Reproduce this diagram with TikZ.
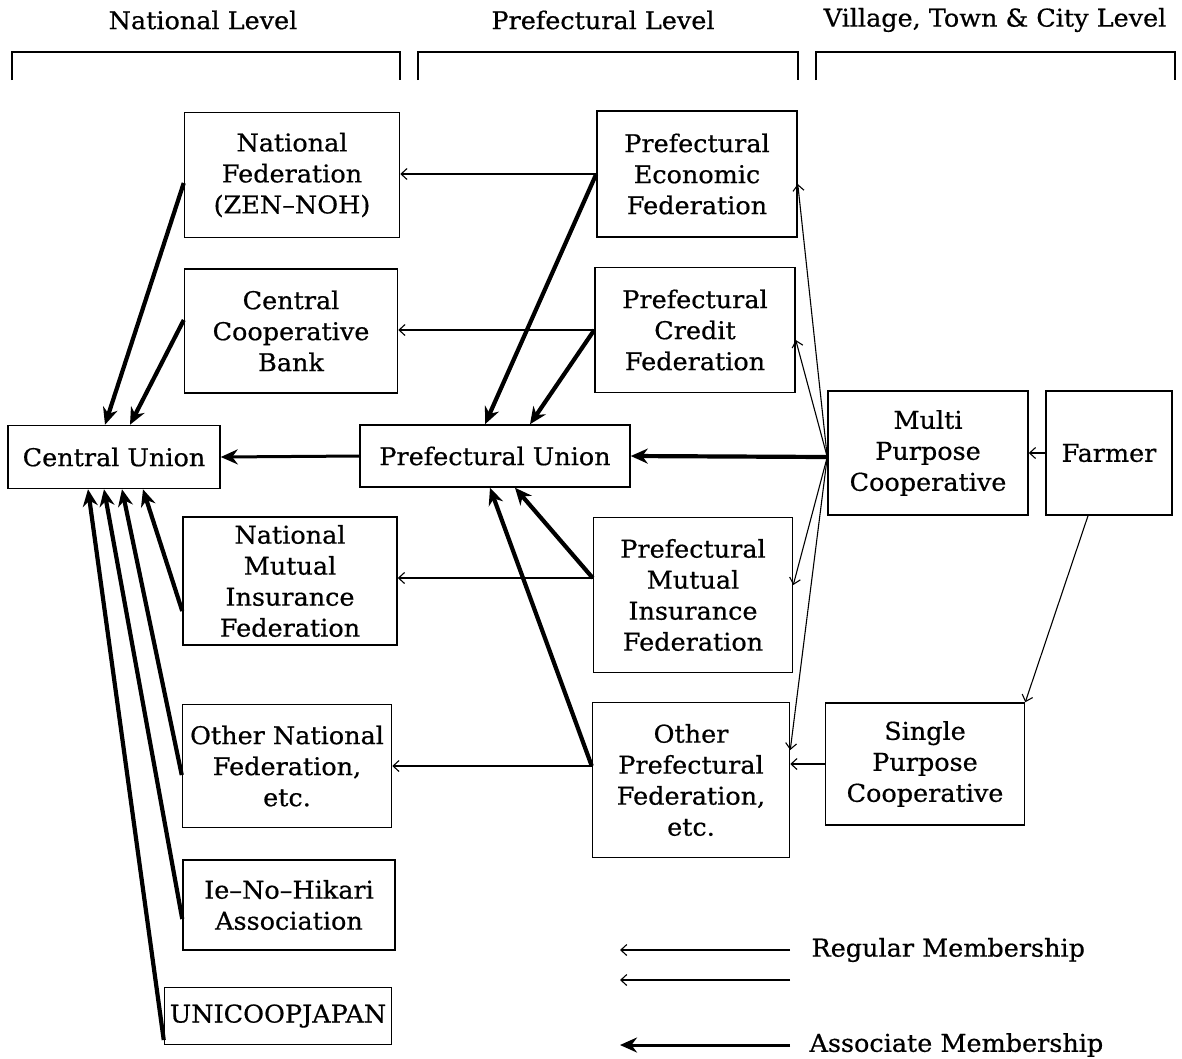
\documentclass[tikz,border=0pt]{standalone}
\usepackage{fontspec}
\setmainfont[FakeBold=0.6,FakeStretch=1.04]{DejaVu Serif}
\usetikzlibrary{arrows.meta}
\begin{document}
\begin{tikzpicture}[x=1pt,y=-1pt,
  box/.style={draw,line width=1.5pt,align=center,inner sep=0pt,
    font=\fontsize{24.5}{31}\selectfont},
  reg/.style={line width=1.1pt,-{Straight Barb[length=6pt,width=11pt]}},
  asc/.style={line width=4.2pt,-{Stealth[length=17pt,width=15pt]}},
  lvl/.style={font=\fontsize{24.5}{28}\selectfont},
  brk/.style={line width=1.6pt}]
\useasboundingbox (0,0) rectangle (1182,1058);
% headers
\node[lvl] (hn) at (203,20) {National Level};
\node[lvl] (hp) at (603,20) {Prefectural Level};
\node[lvl] (hv) at (995,20) {Village, Town \& City Level};
\draw[brk] (12,80) -- (12,52) -- (400,52) -- (400,80);
\draw[brk] (418,80) -- (418,52) -- (798,52) -- (798,80);
\draw[brk] (816,80) -- (816,52) -- (1175,52) -- (1175,80);
% national
\node[box,minimum width=215pt,minimum height=125pt] (nf) at (292,175) {National\\Federation\\(ZEN--NOH)};
\node[box,minimum width=213pt,minimum height=124pt] (ccb) at (291,331) {Central\\Cooperative\\Bank};
\node[box,minimum width=212pt,minimum height=63pt] (cu) at (114,457) {Central Union};
\node[box,minimum width=214pt,minimum height=128pt] (nmi) at (290,581) {National\\Mutual\\Insurance\\Federation};
\node[box,minimum width=209pt,minimum height=123pt] (onf) at (287,766) {Other National\\Federation,\\etc.};
\node[box,minimum width=212pt,minimum height=90pt] (ie) at (289,905) {Ie--No--Hikari\\Association};
\node[box,minimum width=227pt,minimum height=57pt] (uni) at (278,1016) {UNICOOPJAPAN};
% prefectural
\node[box,minimum width=270pt,minimum height=62pt] (pu) at (495,456) {Prefectural Union};
\node[box,minimum width=200pt,minimum height=126pt] (pef) at (697,174) {Prefectural\\Economic\\Federation};
\node[box,minimum width=200pt,minimum height=125pt] (pcf) at (695,330) {Prefectural\\Credit\\Federation};
\node[box,minimum width=199pt,minimum height=155pt] (pmi) at (693,595) {Prefectural\\Mutual\\Insurance\\Federation};
\node[box,minimum width=197pt,minimum height=155pt] (opf) at (691,780) {Other\\Prefectural\\Federation,\\etc.};
% village
\node[box,minimum width=200pt,minimum height=124pt] (mpc) at (928,453) {Multi\\Purpose\\Cooperative};
\node[box,minimum width=126pt,minimum height=124pt] (farm) at (1109,453) {Farmer};
\node[box,minimum width=199pt,minimum height=122pt] (spc) at (925,764) {Single\\Purpose\\Cooperative};
% anchor points
\coordinate (pmiw) at ([yshift=17pt]pmi.west);
\coordinate (opfw) at ([yshift=14pt]opf.west);
\coordinate (mpcw) at ([yshift=-4pt]mpc.west);
% regular membership
\draw[reg] (pef.west) -- (nf.east |- pef.west);
\draw[reg] (pcf.west) -- (ccb.east |- pcf.west);
\draw[reg] (pmiw) -- (nmi.east |- pmiw);
\draw[reg] (opfw) -- (onf.east |- opfw);
\draw[reg] (mpcw) -- ([yshift=-10pt]pef.east);
\draw[reg] (mpcw) -- ([yshift=-10pt]pcf.east);
\draw[reg] (mpcw) -- ([yshift=10pt]pmi.east);
\draw[reg] (mpcw) -- ([yshift=30pt]opf.east);
\draw[reg] (spc.west) -- (opf.east |- spc.west);
\draw[reg] (farm.west) -- (mpc.east);
\draw[reg] ([xshift=-21pt]farm.south) -- (spc.north east);
% associate membership
\draw[asc] (mpcw) -- (pu.east);
\draw[asc,line width=3pt] (pu.west) -- (cu.east);
\draw[asc] (pef.west) -- ([xshift=-10pt]pu.north);
\draw[asc] (pcf.west) -- ([xshift=35pt]pu.north);
\draw[asc] (pmiw) -- ([xshift=20pt]pu.south);
\draw[asc] (opfw) -- ([xshift=-5pt]pu.south);
\draw[asc] ([yshift=-8pt]nf.west) -- ([xshift=-9pt]cu.north);
\draw[asc] ([yshift=11pt]ccb.west) -- ([xshift=16pt]cu.north);
\draw[asc] ([yshift=-30pt]nmi.west) -- ([xshift=29pt]cu.south);
\draw[asc] ([yshift=-9pt]onf.west) -- ([xshift=8pt]cu.south);
\draw[asc] ([yshift=-14pt]ie.west) -- ([xshift=-10pt]cu.south);
\draw[asc] ([yshift=-24pt]uni.west) -- ([xshift=-26pt]cu.south);
% legend
\coordinate (r1a) at (790,950); \coordinate (r1b) at (620,950);
\coordinate (r2a) at (790,980); \coordinate (r2b) at (620,980);
\coordinate (a1a) at (790,1045); \coordinate (a1b) at (620,1045);
\draw[reg] (r1a) -- (r1b);
\draw[reg] (r2a) -- (r2b);
\draw[asc,line width=3pt] (a1a) -- (a1b);
\node[lvl,anchor=west] (lr) at (808,950) {Regular Membership};
\node[lvl,anchor=west] (la) at (806,1045) {Associate Membership};
\end{tikzpicture}
\end{document}
